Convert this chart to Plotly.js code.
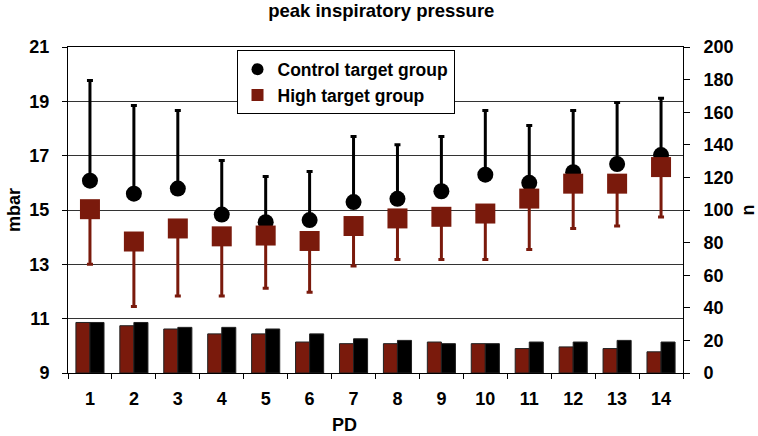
<!DOCTYPE html>
<html>
<head>
<meta charset="utf-8">
<script src="https://cdn.plot.ly/plotly-3.0.1.min.js"></script>
<style>html,body{margin:0;padding:0;background:#fff;}#chart{width:758px;height:436px;}</style>
</head>
<body>
<div id="chart"></div>
<script>
// Data
var days = ['1','2','3','4','5','6','7','8','9','10','11','12','13','14'];
var controlMean = [16.08, 15.6, 15.79, 14.83, 14.55, 14.63, 15.29, 15.41, 15.69, 16.30, 16.0, 16.39, 16.69, 17.02];
var controlUpper = [19.77, 18.85, 18.66, 16.82, 16.23, 16.42, 17.71, 17.40, 17.71, 18.66, 18.11, 18.66, 18.96, 19.11];
var highMean = [15.03, 13.84, 14.32, 14.03, 14.06, 13.86, 14.41, 14.69, 14.75, 14.87, 15.42, 15.97, 15.97, 16.58];
var highLower = [13.0, 11.45, 11.83, 11.83, 12.12, 11.97, 12.94, 13.18, 13.18, 13.18, 13.55, 14.32, 14.41, 14.74];
var nHigh = [31, 29, 27, 24, 24, 19, 18, 18, 19, 18, 15, 16, 15, 13];
var nControl = [31, 31, 28, 28, 27, 24, 21, 20, 18, 18, 19, 19, 20, 19];

var RED = '#7a1a0c';
var FONT = 'Liberation Sans, Arial, sans-serif';

var ctrlPlus = controlUpper.map(function(u,i){return u - controlMean[i];});
var highMinus = highMean.map(function(m,i){return m - highLower[i];});

var traces = [
  {
    type: 'bar', x: days, y: nHigh, yaxis: 'y2', showlegend: false,
    marker: {color: RED, line: {color: '#222', width: 1}}, hoverinfo: 'skip'
  },
  {
    type: 'bar', x: days, y: nControl, yaxis: 'y2', showlegend: false,
    marker: {color: '#000', line: {color: '#222', width: 1}}, hoverinfo: 'skip'
  },
  {
    type: 'scatter', mode: 'markers', name: 'Control target group',
    x: days, y: controlMean,
    marker: {symbol: 'circle', size: 16, color: '#000'},
    error_y: {type: 'data', symmetric: false, array: ctrlPlus,
      arrayminus: controlMean.map(function(){return 0;}),
      color: '#000', thickness: 3, width: 3}
  },
  {
    type: 'scatter', mode: 'markers', name: 'High target group',
    x: days, y: highMean,
    marker: {symbol: 'square', size: 20, color: RED},
    error_y: {type: 'data', symmetric: false, array: highMean.map(function(){return 0;}),
      arrayminus: highMinus, color: RED, thickness: 3, width: 3}
  }
];

var tickFont = {family: FONT, size: 18, color: '#000', weight: 'bold'};

var layout = {
  width: 758, height: 436,
  margin: {l: 68, r: 75, t: 47, b: 63},
  paper_bgcolor: '#fff', plot_bgcolor: '#fff',
  font: {family: FONT, color: '#000'},
  title: {text: 'peak inspiratory pressure', font: {family: FONT, size: 18.5, weight: 'bold', color: '#000'},
    xref: 'container', x: 0.503, xanchor: 'center', yref: 'container', y: 0.975, yanchor: 'middle'},
  barmode: 'group', bargap: 0.36, bargroupgap: 0,
  showlegend: true,
  legend: {x: 0.274, xanchor: 'left', y: 0.99, yanchor: 'top',
    bgcolor: '#fff', bordercolor: '#000', borderwidth: 1,
    font: {family: FONT, size: 17.5, weight: 'bold', color: '#000'},
    itemwidth: 30, itemsizing: 'constant', tracegroupgap: 0},
  xaxis: {
    type: 'category', range: [-0.5, 13.5], tickson: 'boundaries', ticks: 'outside', ticklen: 5, tickwidth: 1, tickcolor: '#000',
    showline: true, linecolor: '#000', linewidth: 1, mirror: true,
    showgrid: false, tickfont: tickFont, ticklabelstandoff: 9
  },
  yaxis: {
    range: [9, 21], tickvals: [9, 11, 13, 15, 17, 19, 21], ticks: 'outside', ticklen: 5, tickcolor: '#000',
    showline: true, linecolor: '#000', linewidth: 1,
    showgrid: true, gridcolor: '#333', gridwidth: 1, zeroline: false,
    tickfont: tickFont, ticklabelstandoff: 9,
    title: {text: 'mbar', font: {family: FONT, size: 18, weight: 'bold', color: '#000'}, standoff: 4}
  },
  yaxis2: {
    overlaying: 'y', side: 'right', range: [0, 200], dtick: 20, ticks: 'outside', ticklen: 6, tickcolor: '#000',
    showline: true, linecolor: '#000', linewidth: 1, showgrid: false, zeroline: false,
    tickfont: tickFont, ticklabelstandoff: 10,
    title: {text: 'n', font: {family: FONT, size: 18, weight: 'bold', color: '#000'}, standoff: 8}
  },
  annotations: [{
    text: 'PD', xref: 'paper', yref: 'paper', x: 0.45, y: -0.158, xanchor: 'center', yanchor: 'middle',
    showarrow: false, font: {family: FONT, size: 18, weight: 'bold', color: '#000'}
  }]
};

Plotly.newPlot('chart', traces, layout, {displayModeBar: false, staticPlot: true});
</script>
</body>
</html>
